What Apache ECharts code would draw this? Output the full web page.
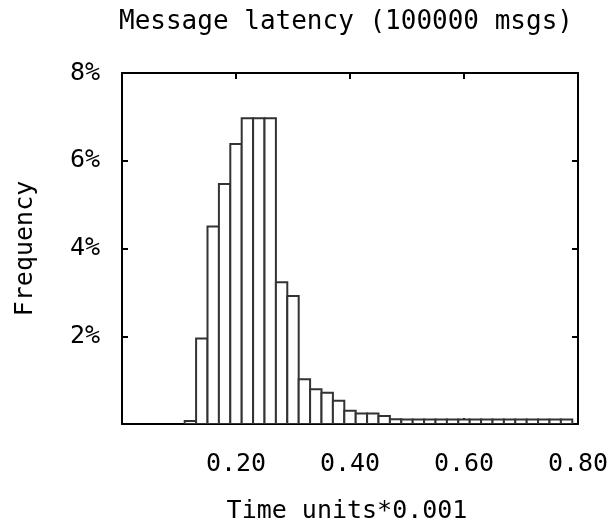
<!DOCTYPE html>
<html>
<head>
<meta charset="utf-8">
<script src="https://cdn.jsdelivr.net/npm/echarts@6/dist/echarts.min.js"></script>
<style>
	html, body { margin: 0; padding: 0; background: #fff; }
	#main { width: 611px; height: 529px; }
</style>
</head>
<body>
<div id="main"></div>
<script>
// histogram bins (centre of each 0.02 wide bin, time units*0.001)
var binCenters = [0.12, 0.14, 0.16, 0.18, 0.20, 0.22, 0.24, 0.26, 0.28, 0.30,
	0.32, 0.34, 0.36, 0.38, 0.40, 0.42, 0.44, 0.46, 0.48, 0.50,
	0.52, 0.54, 0.56, 0.58, 0.60, 0.62, 0.64, 0.66, 0.68, 0.70,
	0.72, 0.74, 0.76, 0.78];
// frequency in %
var freqValues = [0.07, 1.95, 4.5, 5.47, 6.38, 6.97, 6.97, 6.97, 3.23, 2.92,
	1.02, 0.79, 0.71, 0.53, 0.30, 0.24, 0.24, 0.18, 0.11, 0.1,
	0.1, 0.1, 0.1, 0.1, 0.1, 0.1, 0.1, 0.1, 0.1, 0.1,
	0.1, 0.1, 0.1, 0.1];
var binWidth = 0.02;
var xTicks = [0.2, 0.4, 0.6, 0.8];   // labelled ticks on x
var yTicks = [2, 4, 6, 8];           // labelled ticks on y

var fontMono = 'DejaVu Sans Mono';

var chart = echarts.init(document.getElementById('main'));

var histData = [];
for (var i = 0; i < binCenters.length; i++) {
	histData.push([binCenters[i], freqValues[i]]);
}

function renderBox(params, api) {
	var x = api.value(0);
	var y = api.value(1);
	var p0 = api.coord([x - binWidth / 2, 0]);
	var p1 = api.coord([x + binWidth / 2, y]);
	return {
		type: 'rect',
		shape: { x: p0[0], y: p1[1], width: p1[0] - p0[0], height: p0[1] - p1[1] },
		style: { fill: '#fff', stroke: '#333', lineWidth: 2 }
	};
}

// gnuplot style: black frame, ticks pointing into the plot
function axisLine() {
	return { onZero: false, lineStyle: { color: '#000', width: 2 } };
}
function axisTick() {
	return { show: true, inside: true, length: 6, lineStyle: { color: '#000', width: 2 } };
}

var option = {
	backgroundColor: '#fff',
	animation: false,
	title: {
		text: 'Message latency (100000 msgs)',
		left: 114,
		top: 4,
		textStyle: { fontFamily: fontMono, fontSize: 26, fontWeight: 'normal', color: '#000' }
	},
	grid: { left: 122, right: 33, top: 73, bottom: 105, containLabel: false, outerBoundsMode: 'none' },
	xAxis: [{
		type: 'value',
		min: 0, max: 0.8, interval: 0.2,
		name: 'Time units*0.001',
		nameLocation: 'middle',
		nameGap: 75,
		nameMoveOverlap: false,
		nameTextStyle: { fontFamily: fontMono, fontSize: 25, color: '#000', padding: [0, 0, 0, -6] },
		axisLine: axisLine(),
		axisTick: axisTick(),
		splitLine: { show: false },
		axisLabel: {
			showMinLabel: false,
			margin: 28,
			fontFamily: fontMono, fontSize: 25, color: '#000',
			formatter: function (v) { return xTicks.indexOf(+v.toFixed(2)) >= 0 ? v.toFixed(2) : ''; }
		}
	}, {
		type: 'value',
		position: 'top',
		min: 0, max: 0.8, interval: 0.2,
		axisLine: axisLine(),
		axisTick: axisTick(),
		splitLine: { show: false },
		axisLabel: { show: false }
	}],
	yAxis: [{
		type: 'value',
		position: 'left',
		min: 0, max: 8, interval: 2,
		name: 'Frequency',
		nameLocation: 'middle',
		nameGap: 84,
		nameMoveOverlap: false,
		nameRotate: 90,
		nameTextStyle: { fontFamily: fontMono, fontSize: 25, color: '#000' },
		axisLine: axisLine(),
		axisTick: axisTick(),
		splitLine: { show: false },
		axisLabel: {
			showMinLabel: false,
			margin: 22,
			fontFamily: fontMono, fontSize: 25, color: '#000',
			formatter: function (v) { return yTicks.indexOf(v) >= 0 ? v + '%' : ''; }
		}
	}, {
		type: 'value',
		position: 'right',
		min: 0, max: 8, interval: 2,
		axisLine: axisLine(),
		axisTick: axisTick(),
		splitLine: { show: false },
		axisLabel: { show: false }
	}],
	series: [{
		type: 'custom',
		xAxisIndex: 0,
		yAxisIndex: 0,
		renderItem: renderBox,
		encode: { x: 0, y: 1 },
		data: histData,
		clip: true
	}]
};

chart.setOption(option);
</script>
</body>
</html>
